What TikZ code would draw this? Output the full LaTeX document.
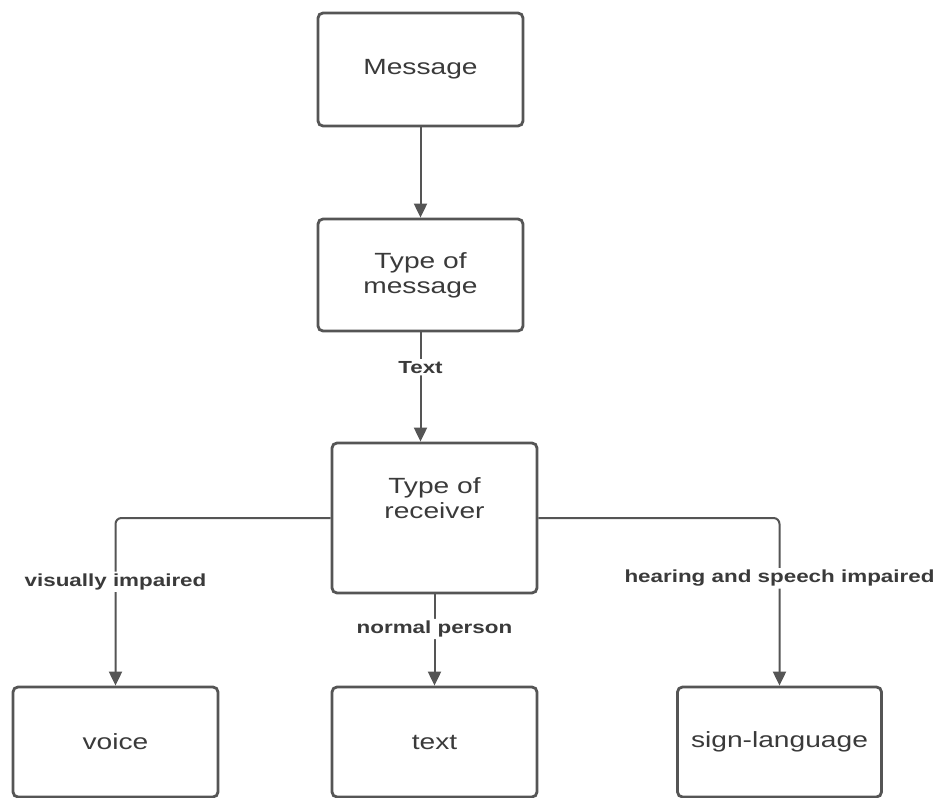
\documentclass[tikz,border=0pt]{standalone}
\usepackage{fontspec}
\setmainfont{Liberation Sans}[FakeStretch=1.28]
\usetikzlibrary{arrows.meta}
\definecolor{linec}{HTML}{555555}
\definecolor{textc}{HTML}{3A3A3A}
\tikzset{
  box/.style={draw=linec, line width=2.8pt, rounded corners=5pt, minimum width=205pt, text=textc, align=center, font=\fontsize{22}{25}\selectfont},
  conn/.style={draw=linec, line width=2pt, rounded corners=6pt, -{Triangle[width=13pt,length=14pt]}},
  lab/.style={fill=white, text=textc, inner sep=2pt, font=\bfseries\fontsize{17.5}{19}\selectfont}
}
\begin{document}
\begin{tikzpicture}[x=1pt,y=-1pt]
\useasboundingbox (0,0) rectangle (938,798);
\node[box, minimum height=113pt] (msg) at (420.5,69.5) {Message};
\node[box, minimum height=112pt] (tm) at (420.5,275) {Type of\\message};
\node[box, minimum height=150pt] (recv) at (434.5,518) {Type of\\receiver\\[14pt]};
\node[box, minimum height=110pt] (voice) at (115.5,742) {voice};
\node[box, minimum height=110pt] (txt) at (434.5,742) {text};
\node[box, minimum height=110pt, minimum width=204pt] (sign) at (779.5,742) {sign-language};
\draw[conn] (msg.south) -- (msg.south |- tm.north);
\draw[conn] (tm.south) -- node[lab, pos=0.32] {Text} (tm.south |- recv.north);
\draw[conn] (recv.west) -| node[lab, pos=0.69] {visually impaired} (voice.north);
\draw[conn] (recv.south) -- node[lab, pos=0.38] {normal person} (txt.north);
\draw[conn] (recv.east) -| node[lab, pos=0.68] {hearing and speech impaired} (sign.north);
\end{tikzpicture}
\end{document}
